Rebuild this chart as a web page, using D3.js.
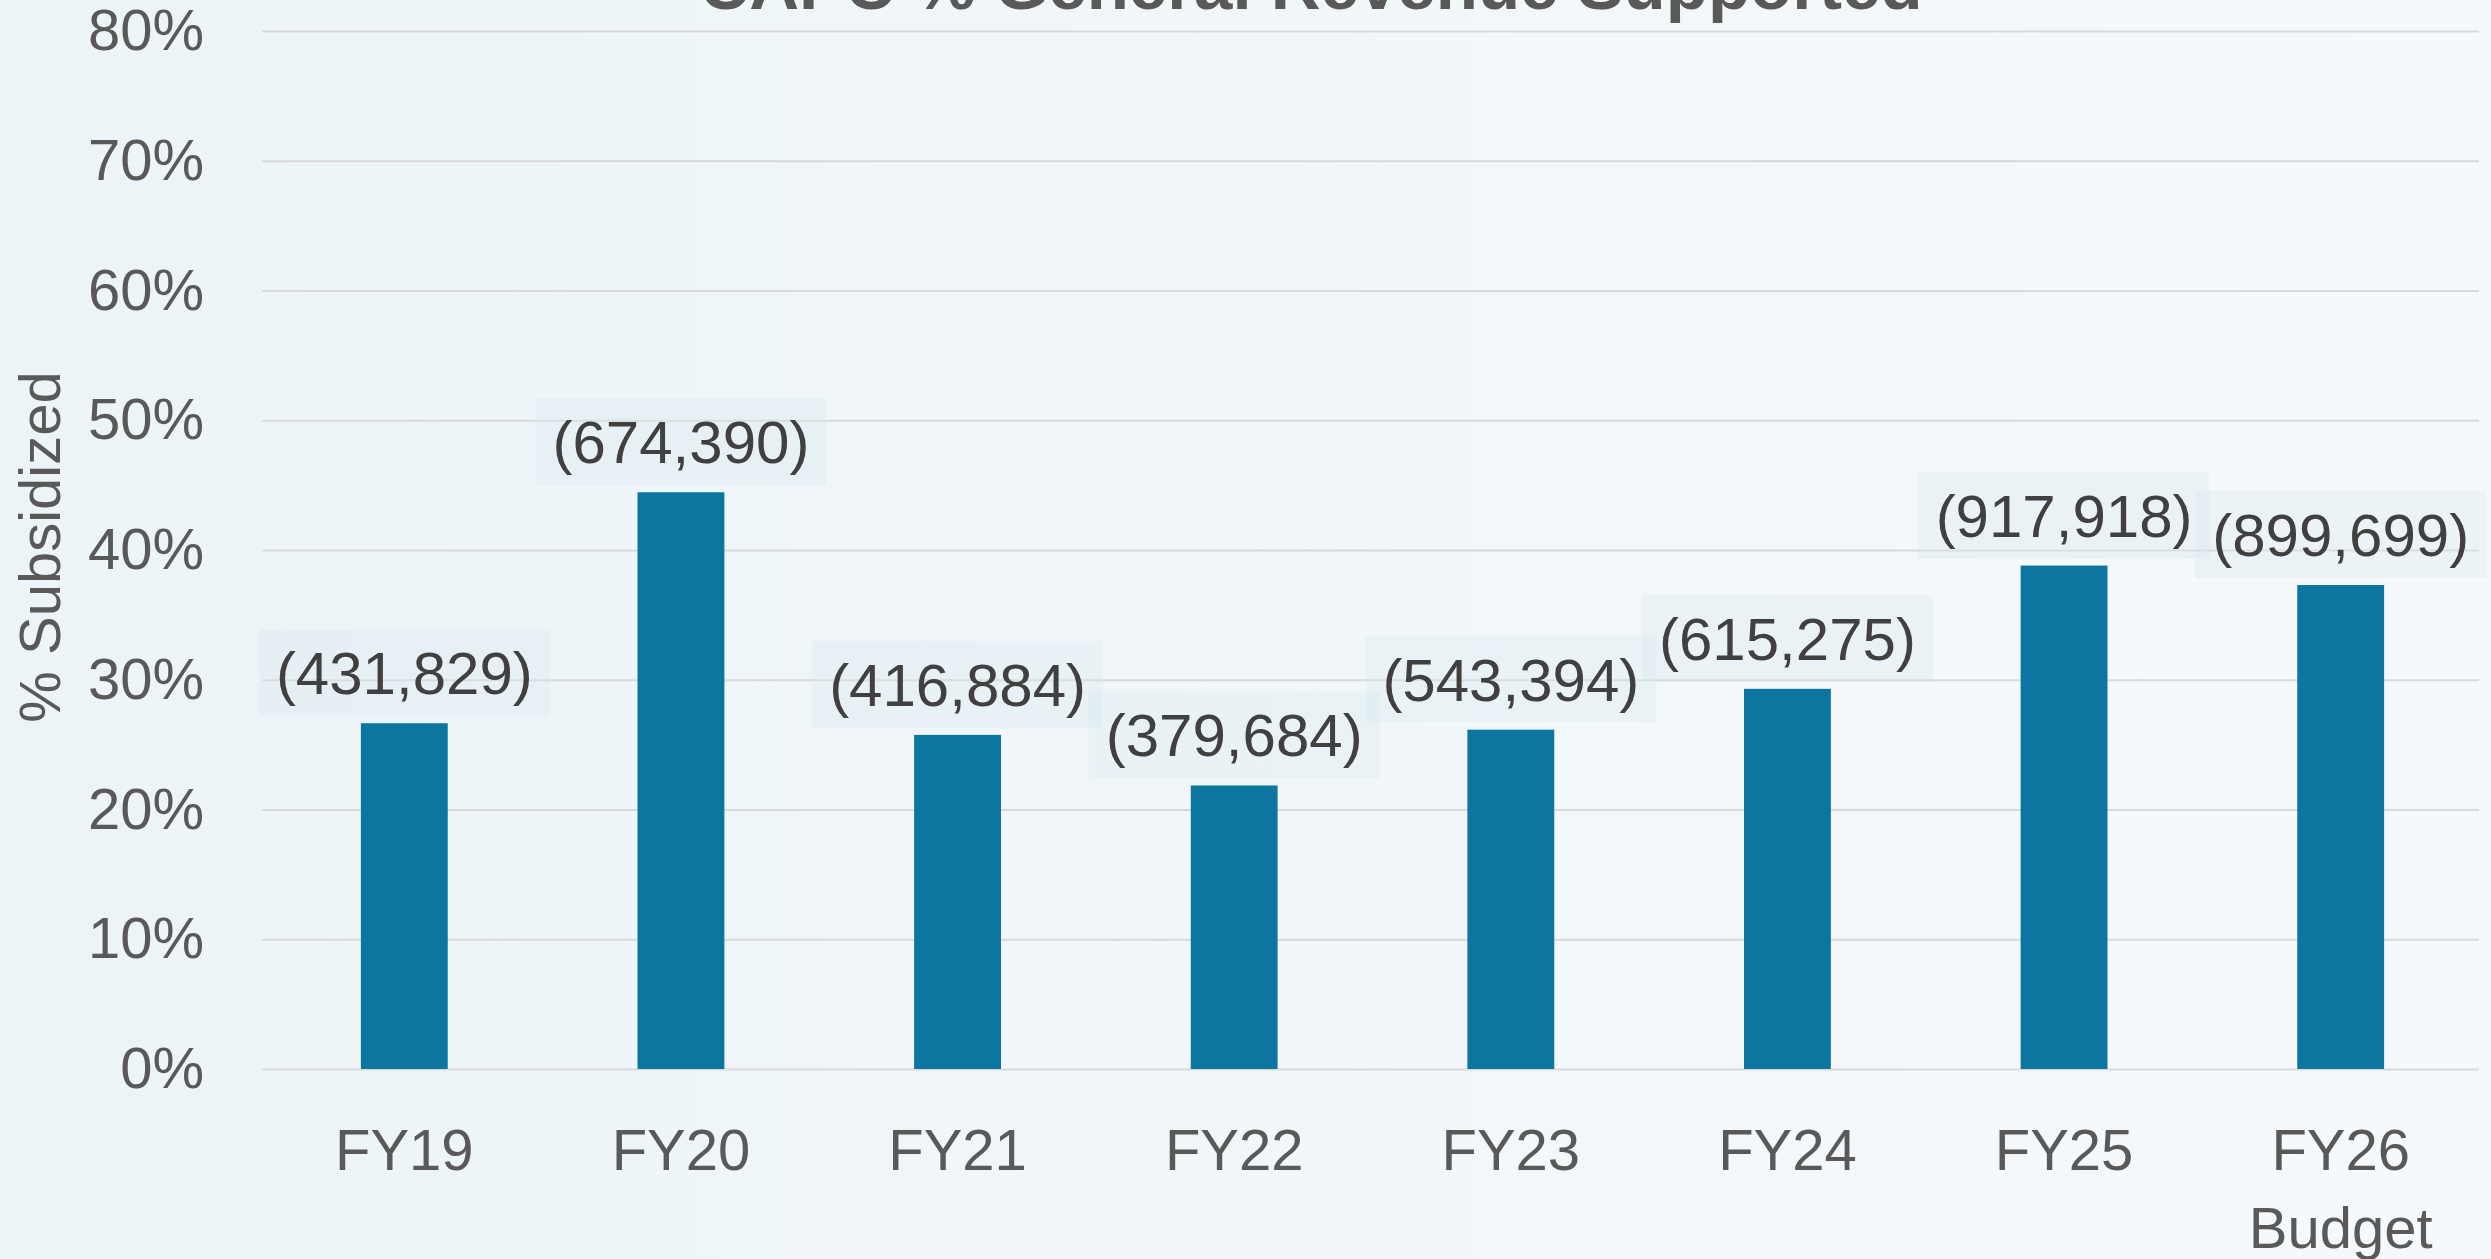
<!DOCTYPE html>
<meta charset="utf-8">
<title>CAPC % General Revenue Supported</title>
<style>

body {
  margin: 0;
  overflow: hidden;
}

svg {
  font-family: 'Liberation Sans', Arial, sans-serif;
  display: block;
}

.grid line {
  stroke: #d9d9d9;
  stroke-width: 2px;
}

.axis text {
  fill: #595959;
  font-size: 58px;
}

.label text {
  fill: #404040;
  font-size: 60px;
}

</style>

<svg width="2491" height="1259"></svg>
<script src="https://d3js.org/d3.v7.min.js"></script>
<script>

var years = ["FY19", "FY20", "FY21", "FY22", "FY23", "FY24", "FY25", "FY26 Budget"];
var subsidized = [0.2665, 0.4445, 0.2575, 0.2185, 0.2615, 0.293, 0.388, 0.373];
var amounts = ["(431,829)", "(674,390)", "(416,884)", "(379,684)", "(543,394)", "(615,275)", "(917,918)", "(899,699)"];
var yTicks = [0, 0.1, 0.2, 0.3, 0.4, 0.5, 0.6, 0.7, 0.8];

var svg = d3.select("svg"),
    width = +svg.attr("width"),
    height = +svg.attr("height");

// plot area (window.top is reserved, so prefixed names)
var plotLeft = 262, plotRight = 2479, plotTop = 31, plotBottom = 1069;
var bandLeft = 266;

// background gradient
var grad = svg.append("defs").append("linearGradient")
    .attr("id", "bg")
    .attr("x1", "0%").attr("x2", "100%")
    .attr("y1", "0%").attr("y2", "0%");
grad.append("stop").attr("offset", "0%").attr("stop-color", "#ecf4f7");
grad.append("stop").attr("offset", "100%").attr("stop-color", "#f6f9fb");

svg.append("rect")
    .attr("width", width)
    .attr("height", height)
    .attr("fill", "url(#bg)");

var x = d3.scaleBand()
    .domain(years)
    .range([bandLeft, plotRight])
    .paddingInner(0.686)
    .paddingOuter(0.343);

var y = d3.scaleLinear()
    .domain([0, 0.8])
    .range([plotBottom, plotTop]);

// gridlines
svg.append("g")
    .attr("class", "grid")
    .attr("transform", "translate(" + plotLeft + ",0)")
    .call(d3.axisLeft(y).tickValues(yTicks).tickSize(-(plotRight - plotLeft)).tickFormat(""))
    .call(function(g) { g.select(".domain").remove(); });

// y tick labels
svg.append("g")
    .attr("class", "axis")
    .attr("transform", "translate(" + plotLeft + ",0)")
    .call(d3.axisLeft(y).tickValues(yTicks).tickSize(0).tickPadding(58).tickFormat(d3.format(".0%")))
    .attr("font-size", null)
    .attr("font-family", null)
    .call(function(g) { g.select(".domain").remove(); });

// bars
svg.append("g")
  .selectAll("rect")
  .data(years)
  .enter()
    .append("rect")
    .attr("x", function(d) { return x(d); })
    .attr("width", x.bandwidth())
    .attr("y", function(d, i) { return y(subsidized[i]); })
    .attr("height", function(d, i) { return plotBottom - y(subsidized[i]); })
    .attr("fill", "#0c76a0");

// x labels
var xa = svg.append("g")
    .attr("class", "axis")
    .attr("transform", "translate(0," + plotBottom + ")")
    .call(d3.axisBottom(x).tickSize(0).tickPadding(0))
    .attr("font-size", null)
    .attr("font-family", null);
xa.select(".domain").remove();
xa.selectAll("text")
    .attr("dy", null)
    .attr("y", 101)
    .text(null)
    .each(function(d) {
      var parts = d.split(" ");
      var t = d3.select(this);
      parts.forEach(function(p, j) {
        t.append("tspan")
          .attr("x", 0)
          .attr("dy", j === 0 ? 0 : 78)
          .text(p);
      });
    });

// data labels with translucent boxes
var labels = svg.append("g")
    .attr("class", "label")
  .selectAll("g")
  .data(years)
  .enter()
    .append("g")
    .attr("transform", function(d, i) {
      return "translate(" + (x(d) + x.bandwidth() / 2) + "," + (y(subsidized[i]) - 7) + ")";
    });

labels.append("rect");
labels.append("text")
    .attr("text-anchor", "middle")
    .attr("y", -22)
    .text(function(d, i) { return amounts[i]; });

labels.each(function() {
  var g = d3.select(this);
  var w = g.select("text").node().getComputedTextLength() + 34;
  g.select("rect")
    .attr("x", -w / 2)
    .attr("y", -87)
    .attr("width", w)
    .attr("height", 87)
    .attr("fill", "#dbe7ed")
    .attr("fill-opacity", 0.35);
});

// y axis title
svg.append("text")
    .attr("transform", "translate(60,547) rotate(-90)")
    .attr("text-anchor", "middle")
    .attr("fill", "#595959")
    .attr("font-size", 58)
    .text("% Subsidized");

// chart title (clipped at the top)
svg.append("text")
    .attr("x", 1311)
    .attr("y", 9)
    .attr("text-anchor", "middle")
    .attr("fill", "#595959")
    .attr("font-size", 69)
    .attr("font-weight", "bold")
    .text("CAPC % General Revenue Supported");

</script>
